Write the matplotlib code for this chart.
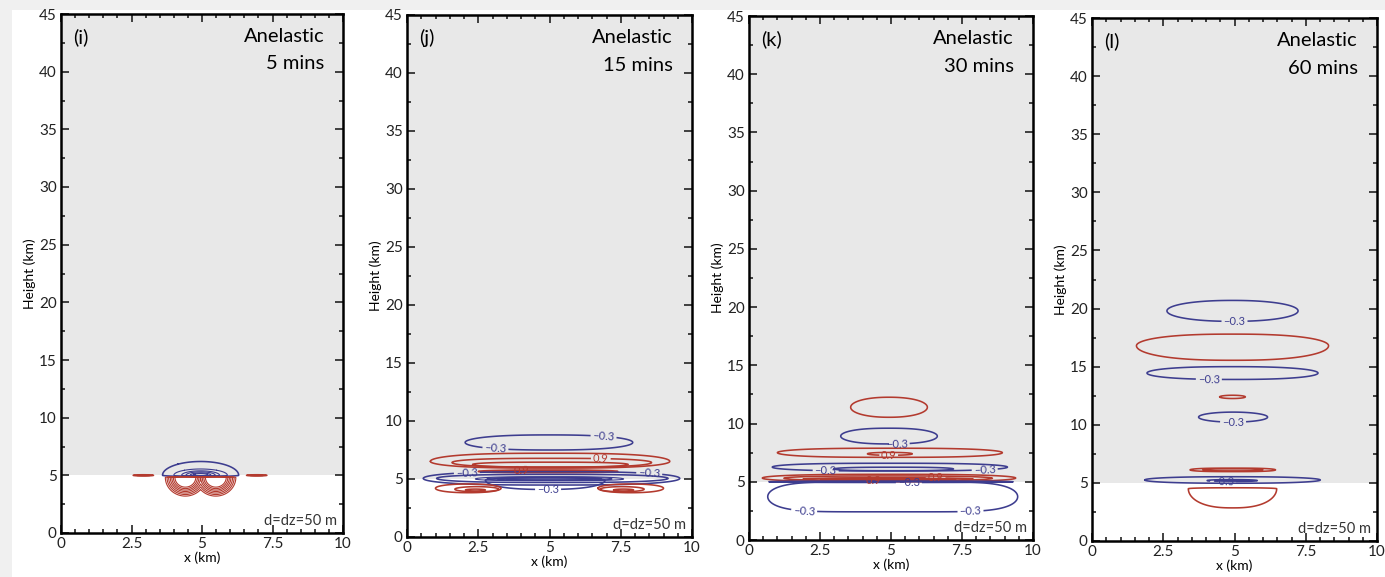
"""Anelastic run: perturbation contours at 5, 15, 30 and 60 minutes."""

import numpy as np
import matplotlib

matplotlib.use("Agg")
import matplotlib.pyplot as plt
from matplotlib.patches import Rectangle
from matplotlib.ticker import MultipleLocator, FuncFormatter

plt.rcParams["font.family"] = ["Lato", "DejaVu Sans"]

PANEL_TAGS = ["(i)", "(j)", "(k)", "(l)"]
MODEL_NAME = "Anelastic"
TIMES = ["5 mins", "15 mins", "30 mins", "60 mins"]
GRID_NOTE = "d=dz=50 m"
SURFACE_Z = 5.0  # km, top of the white (lower) layer

# one closed contour per row:
# sign, x centre, z centre, half width, half height up, half height down,
# x exponent (squareness), lobe split, nested levels
RINGS_5MIN = [
    (-1, 4.95, 5.00, 1.35, 1.20, 0.10, 2.0, 0.00, (1,)),
    (-1, 4.95, 5.00, 0.95, 0.55, 0.08, 2.0, 0.00, (1, 0.5, 0.3, 0.15, 0.08)),
    (1, 4.95, 4.82, 0.71, 0.08, 1.62, 2.0, 0.54,
     (1, 0.84, 0.7, 0.57, 0.46, 0.36, 0.27)),
    (1, 2.92, 5.00, 0.36, 0.05, 0.05, 2.0, 0.00, (1, 0.4)),
    (1, 6.94, 5.00, 0.36, 0.05, 0.05, 2.0, 0.00, (1, 0.4)),
]
RINGS_15MIN = [
    (-1, 4.98, 8.15, 2.94, 0.65, 0.65, 2.5, 0.00, (1,)),
    (1, 5.02, 6.52, 4.20, 0.70, 0.58, 3.0, 0.00, (1,)),
    (1, 5.08, 6.42, 3.50, 0.36, 0.40, 3.0, 0.00, (1,)),
    (1, 5.03, 6.25, 2.73, 0.20, 0.22, 3.0, 0.00, (1,)),
    (1, 4.95, 5.65, 2.45, 0.12, 0.10, 3.0, 0.00, (1, 0.5, 0.25)),
    (-1, 5.07, 5.05, 4.50, 0.58, 0.57, 3.0, 0.00, (1,)),
    (-1, 5.10, 5.05, 4.06, 0.35, 0.35, 3.0, 0.00, (1,)),
    (-1, 5.00, 5.00, 2.60, 0.20, 0.15, 3.0, 0.00, (1, 0.6, 0.35, 0.2)),
    (-1, 4.85, 4.90, 2.10, 0.20, 0.80, 2.5, 0.00, (1,)),
    (1, 2.15, 4.20, 1.15, 0.37, 0.38, 2.2, 0.00, (1,)),
    (1, 2.45, 4.12, 0.77, 0.22, 0.22, 2.0, 0.00, (1,)),
    (1, 2.40, 4.05, 0.35, 0.08, 0.08, 2.0, 0.00, (1,)),
    (1, 7.85, 4.20, 1.15, 0.37, 0.38, 2.2, 0.00, (1,)),
    (1, 7.55, 4.12, 0.77, 0.22, 0.22, 2.0, 0.00, (1,)),
    (1, 7.60, 4.05, 0.35, 0.08, 0.08, 2.0, 0.00, (1,)),
]
RINGS_30MIN = [
    (1, 4.93, 11.40, 1.35, 0.86, 0.86, 2.2, 0.00, (1,)),
    (-1, 4.93, 8.92, 1.70, 0.68, 0.67, 2.5, 0.00, (1,)),
    (1, 4.96, 7.50, 3.96, 0.38, 0.40, 3.0, 0.00, (1,)),
    (1, 4.96, 7.40, 0.79, 0.12, 0.12, 2.5, 0.00, (1,)),
    (-1, 4.96, 6.26, 4.14, 0.33, 0.33, 3.0, 0.00, (1,)),
    (-1, 5.10, 6.10, 2.10, 0.15, 0.15, 3.0, 0.00, (1,)),
    (1, 4.93, 5.32, 4.46, 0.32, 0.32, 3.0, 0.00, (1,)),
    (1, 4.90, 5.30, 3.67, 0.20, 0.20, 3.0, 0.00, (1,)),
    (1, 4.90, 5.22, 3.00, 0.12, 0.12, 3.0, 0.00, (1, 0.5, 0.25)),
    (-1, 5.00, 5.00, 4.30, 0.06, 0.06, 3.0, 0.00, (1,)),
    (-1, 5.06, 3.72, 4.40, 1.28, 1.30, 6.0, 0.00, (1,)),
]
RINGS_60MIN = [
    (-1, 4.93, 19.80, 2.30, 0.90, 0.90, 2.2, 0.00, (1,)),
    (1, 4.93, 16.80, 3.37, 1.00, 1.25, 2.5, 0.00, (1,)),
    (-1, 4.93, 14.45, 3.00, 0.55, 0.55, 2.5, 0.00, (1,)),
    (1, 4.93, 12.40, 0.45, 0.14, 0.14, 2.0, 0.00, (1,)),
    (-1, 4.95, 10.66, 1.21, 0.43, 0.43, 2.0, 0.00, (1,)),
    (1, 4.94, 6.12, 1.50, 0.15, 0.15, 3.0, 0.00, (1, 0.35)),
    (-1, 4.93, 5.25, 3.08, 0.28, 0.28, 2.5, 0.00, (1,)),
    (-1, 4.92, 5.20, 0.88, 0.08, 0.08, 2.5, 0.00, (1, 0.4)),
    (1, 4.93, 4.50, 1.55, 0.08, 1.65, 2.5, 0.00, (1,)),
]

# contour labels: ring index, x, z, text
LABELS_5MIN = []
LABELS_15MIN = [
    (0, 6.9, 8.8, "\u22120.3"), (0, 3.1, 7.5, "\u22120.3"),
    (2, 6.8, 6.8, "0.9"), (4, 4.0, 5.7, "0.9"),
    (5, 2.1, 5.6, "\u22120.3"), (5, 8.5, 5.5, "\u22120.3"),
    (8, 4.95, 4.1, "\u22120.3"),
]
LABELS_30MIN = [
    (1, 5.2, 8.25, "\u22120.3"), (3, 4.9, 7.4, "0.9"),
    (4, 8.3, 6.0, "\u22120.3"), (4, 2.7, 5.95, "\u22120.3"),
    (8, 4.4, 5.05, "0.9"), (8, 6.57, 5.35, "0.9"),
    (9, 5.63, 4.95, "\u22120.3"),
    (10, 1.94, 2.43, "\u22120.3"), (10, 7.8, 2.43, "\u22120.3"),
]
LABELS_60MIN = [
    (0, 5.0, 18.9, "\u22120.3"), (2, 4.1, 13.95, "\u22120.3"),
    (4, 4.95, 10.25, "\u22120.3"), (7, 4.6, 5.12, "\u22120.3"),
]

RINGS = [RINGS_5MIN, RINGS_15MIN, RINGS_30MIN, RINGS_60MIN]
LABELS = [LABELS_5MIN, LABELS_15MIN, LABELS_30MIN, LABELS_60MIN]

RED = "#b33a2e"
BLUE = "#3d3d8f"
SKY = "#e8e8e8"

# axes boxes in pixels of the 1385x577 canvas: left, top, right, bottom
BOXES = [(61, 14, 343, 533), (407, 15, 692, 537),
         (749, 16, 1033, 540), (1092, 18, 1377, 541)]

W, H = 1385, 577
xg = np.linspace(0, 10, 1001)
zg = np.linspace(0, 25, 2501)
X, Z = np.meshgrid(xg, zg)


def ring_field(x0, z0, a, bu, bd, px, split):
    b = np.where(Z >= z0, bu, bd)
    fz = ((Z - z0) / b) ** 2
    fl = np.abs(X - (x0 - split)) / a
    fr = np.abs(X - (x0 + split)) / a
    return np.minimum(fl ** px, fr ** px) + fz


fig = plt.figure(figsize=(W / 100, H / 100), dpi=100, facecolor="#f0f0f0")
fig.patches.append(Rectangle((12 / W, 0), 1, 1 - 10 / H, transform=fig.transFigure,
                             facecolor="white", edgecolor="none", zorder=-5))

for k, (l, t, r, b) in enumerate(BOXES):
    ax = fig.add_axes([l / W, 1 - b / H, (r - l) / W, (b - t) / H])
    ax.set_facecolor("white")
    ax.axhspan(SURFACE_Z, 45, color=SKY, zorder=0, lw=0)

    sets = []
    for sign, x0, z0, a, bu, bd, px, split, lev in RINGS[k]:
        f = ring_field(x0, z0, a, bu, bd, px, split)
        lw = 1.15 if len(lev) < 4 else 0.8
        cs = ax.contour(X, Z, f, levels=sorted(lev),
                        colors=RED if sign > 0 else BLUE, linewidths=lw)
        sets.append(cs)
    for idx, lx, lz, txt in LABELS[k]:
        cs = sets[idx]
        ax.clabel(cs, levels=cs.levels, fmt=lambda v, s=txt: s,
                  manual=[(lx, lz)], inline=True, inline_spacing=2,
                  fontsize=8)

    ax.set_xlim(0, 10)
    ax.set_ylim(0, 45)
    ax.xaxis.set_major_locator(MultipleLocator(2.5))
    ax.xaxis.set_minor_locator(MultipleLocator(0.5))
    ax.yaxis.set_major_locator(MultipleLocator(5))
    ax.yaxis.set_minor_locator(MultipleLocator(2.5))
    ax.xaxis.set_major_formatter(FuncFormatter(lambda v, p: f"{v:g}"))
    ax.tick_params(which="both", direction="in", top=True, right=True,
                   width=1.2, labelsize=11, pad=3, colors="#222222")
    ax.tick_params(which="major", length=6)
    ax.tick_params(which="minor", length=3)
    for s in ax.spines.values():
        s.set_linewidth(1.8)
    ax.set_xlabel("x (km)", fontsize=10, labelpad=0)
    ax.set_ylabel("Height (km)", fontsize=10, labelpad=2)

    ax.text(0.43, 42.5, PANEL_TAGS[k], fontsize=14.5, ha="left",
            va="baseline")
    ax.text(9.33, 42.6, MODEL_NAME, fontsize=14.5, ha="right", va="baseline")
    ax.text(9.33, 40.2, TIMES[k], fontsize=14.5, ha="right", va="baseline")
    ax.text(9.8, 1.0, GRID_NOTE, fontsize=10.5, ha="right", va="center",
            color="#333333")

fig.savefig("out.png", dpi=100, facecolor=fig.get_facecolor())
